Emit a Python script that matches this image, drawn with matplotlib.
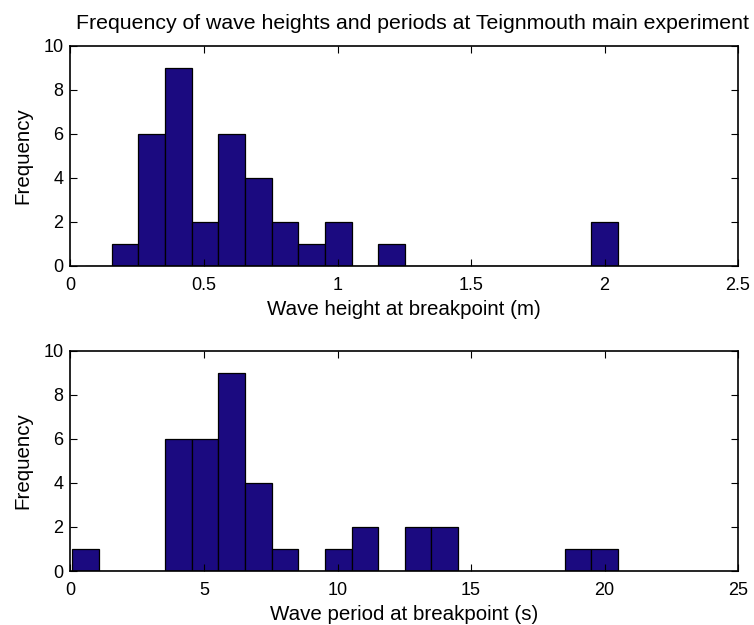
import numpy as np
import matplotlib
matplotlib.use("Agg")
import matplotlib.pyplot as plt

plt.rcParams["font.family"] = ["Liberation Sans", "DejaVu Sans"]

# ── Data (MATLAB-style hist, 20 bins) ─────────────────────────────────────────
height_range  = (0.055, 2.05)          # m, bin range
height_counts = [0, 1, 6, 9, 2, 6, 4, 2, 1, 2, 0, 1, 0, 0, 0, 0, 0, 0, 0, 2]

period_range  = (0.55, 20.5)           # s, bin range
period_counts = [0, 0, 0, 6, 6, 9, 4, 1, 0, 1, 2, 0, 2, 2, 0, 0, 0, 0, 1, 1]
period_low_x  = [0.55]                 # stray bar drawn at the first bin edge
period_low_n  = [1]

title   = "Frequency of wave heights and periods at Teignmouth main experiment"
xlabels = ["Wave height at breakpoint (m)", "Wave period at breakpoint (s)"]
xlims   = [(0, 2.5), (0, 25)]
xticks  = [[0, 0.5, 1, 1.5, 2, 2.5], [0, 5, 10, 15, 20, 25]]
xtlabs  = [["0", "0.5", "1", "1.5", "2", "2.5"], ["0", "5", "10", "15", "20", "25"]]

BAR = "#1b0a80"


def hist_bars(ax, rng, counts):
    edges = np.linspace(rng[0], rng[1], len(counts) + 1)
    w = edges[1] - edges[0]
    ax.bar(edges[:-1], counts, width=w, align="edge",
           color=BAR, edgecolor="black", linewidth=0.9)
    return w


fig = plt.figure(figsize=(7.54, 6.25), dpi=100)
ax1 = fig.add_axes([0.0935, 0.5744, 0.8853, 0.3525])
ax2 = fig.add_axes([0.0935, 0.0864, 0.8853, 0.3525])

hist_bars(ax1, height_range, height_counts)
w = hist_bars(ax2, period_range, period_counts)
ax2.bar(period_low_x, period_low_n, width=w, align="center",
        color=BAR, edgecolor="black", linewidth=0.9)

for i, ax in enumerate([ax1, ax2]):
    ax.set_xlim(*xlims[i])
    ax.set_ylim(0, 10)
    ax.set_xticks(xticks[i])
    ax.set_xticklabels(xtlabs[i])
    ax.set_yticks([0, 2, 4, 6, 8, 10])
    ax.tick_params(direction="in", top=True, right=True, length=5,
                   width=0.8, labelsize=13)
    ax.tick_params(axis="x", pad=8)
    ax.tick_params(axis="y", pad=5)
    for s in ax.spines.values():
        s.set_linewidth(1.2)
    ax.set_xlabel(xlabels[i], fontsize=14.8, labelpad=4)
    ax.set_ylabel("Frequency", fontsize=14.8, labelpad=8)

ax1.set_title(title, fontsize=15.3, pad=12, x=0.513)

fig.savefig("out.png", dpi=100)
